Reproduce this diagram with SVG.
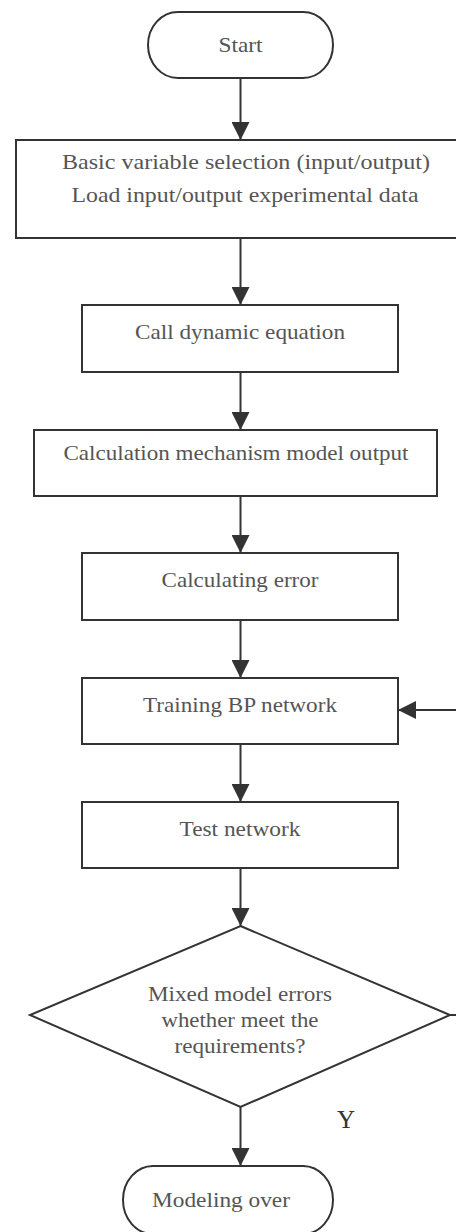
<svg xmlns="http://www.w3.org/2000/svg" width="456" height="1232" viewBox="0 0 456 1232">
<style>
.shape{fill:#fff;stroke:#333;stroke-width:2}
.conn{fill:none;stroke:#333;stroke-width:2}
.t{font-family:"Liberation Serif","Times New Roman",serif;font-size:21px;fill:#555;text-anchor:middle}
.y{font-family:"Liberation Serif","Times New Roman",serif;font-size:25px;fill:#333;text-anchor:middle}
</style>
<defs>
<marker id="ah" markerUnits="userSpaceOnUse" markerWidth="18" markerHeight="18" viewBox="0 0 18 18" refX="18" refY="9" orient="auto">
<path d="M0,0 L18,9 L0,18 Z" fill="#333"/>
</marker>
</defs>
<rect width="456" height="1232" fill="#fff"/>
<g id="connectors">
<line class="conn" x1="240.5" y1="78" x2="240.5" y2="140" marker-end="url(#ah)"/>
<line class="conn" x1="240.5" y1="238" x2="240.5" y2="305" marker-end="url(#ah)"/>
<line class="conn" x1="240.5" y1="372" x2="240.5" y2="430" marker-end="url(#ah)"/>
<line class="conn" x1="240.5" y1="496" x2="240.5" y2="553" marker-end="url(#ah)"/>
<line class="conn" x1="240.5" y1="620" x2="240.5" y2="678" marker-end="url(#ah)"/>
<line class="conn" x1="240.5" y1="744" x2="240.5" y2="802" marker-end="url(#ah)"/>
<line class="conn" x1="240.5" y1="868" x2="240.5" y2="926" marker-end="url(#ah)"/>
<line class="conn" x1="240.5" y1="1107" x2="240.5" y2="1166" marker-end="url(#ah)"/>
<path class="conn" d="M450,1015 H470 V710 H398" marker-end="url(#ah)"/>
<text class="y" x="346" y="1128">Y</text>
</g>
<g id="start">
<rect class="shape" x="148" y="12" width="185" height="66" rx="30" ry="33"/>
<text class="t" x="240.5" y="52" textLength="44" lengthAdjust="spacingAndGlyphs">Start</text>
</g>
<g id="load">
<rect class="shape" x="16" y="140" width="452" height="98"/>
<text class="t" x="246" y="169" textLength="368" lengthAdjust="spacingAndGlyphs">Basic variable selection (input/output)</text>
<text class="t" x="245" y="202" textLength="347" lengthAdjust="spacingAndGlyphs">Load input/output experimental data</text>
</g>
<g id="call">
<rect class="shape" x="82" y="305" width="316" height="67"/>
<text class="t" x="240" y="339" textLength="210" lengthAdjust="spacingAndGlyphs">Call dynamic equation</text>
</g>
<g id="calc">
<rect class="shape" x="34" y="430" width="403" height="66"/>
<text class="t" x="236" y="460" textLength="345" lengthAdjust="spacingAndGlyphs">Calculation mechanism model output</text>
</g>
<g id="error">
<rect class="shape" x="82" y="553" width="316" height="67"/>
<text class="t" x="240" y="587" textLength="157" lengthAdjust="spacingAndGlyphs">Calculating error</text>
</g>
<g id="train">
<rect class="shape" x="82" y="678" width="316" height="66"/>
<text class="t" x="240" y="712" textLength="194" lengthAdjust="spacingAndGlyphs">Training BP network</text>
</g>
<g id="test">
<rect class="shape" x="82" y="802" width="316" height="66"/>
<text class="t" x="240" y="836" textLength="121" lengthAdjust="spacingAndGlyphs">Test network</text>
</g>
<g id="decision">
<polygon class="shape" points="240.5,926 450,1015 240.5,1107 30,1015"/>
<text class="t" x="240" y="1001" textLength="184" lengthAdjust="spacingAndGlyphs">Mixed model errors</text>
<text class="t" x="240" y="1027" textLength="157" lengthAdjust="spacingAndGlyphs">whether meet the</text>
<text class="t" x="240" y="1053" textLength="131" lengthAdjust="spacingAndGlyphs">requirements?</text>
</g>
<g id="end">
<rect class="shape" x="123" y="1166" width="210" height="68" rx="30" ry="34"/>
<text class="t" x="221" y="1207" textLength="138" lengthAdjust="spacingAndGlyphs">Modeling over</text>
</g>
</svg>
